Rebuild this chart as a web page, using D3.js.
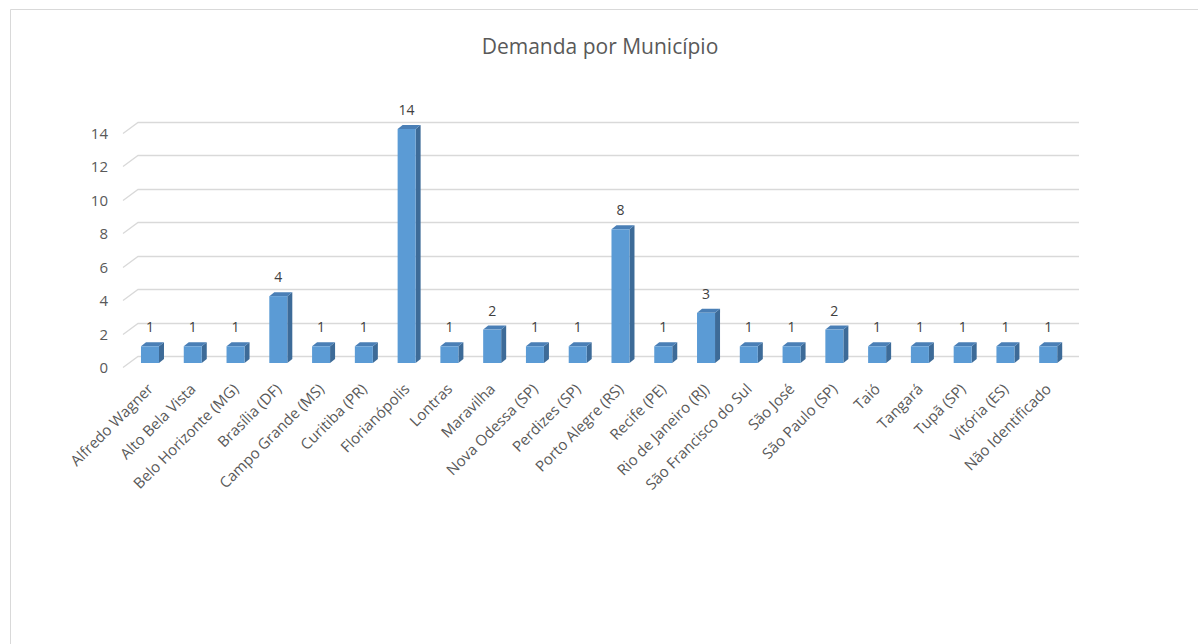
<!DOCTYPE html>
<html>
<head>
<meta charset="utf-8">
<script src="https://cdn.jsdelivr.net/npm/d3@7"></script>
<style>
  body { margin: 0; background: #fff; }
  text { font-family: "Open Sans", sans-serif; fill: #595959; }
</style>
</head>
<body>
<div class="svg-container"></div>
<script>
// data
const categories = [
  "Alfredo Wagner", "Alto Bela Vista", "Belo Horizonte (MG)", "Brasília (DF)",
  "Campo Grande (MS)", "Curitiba (PR)", "Florianópolis", "Lontras", "Maravilha",
  "Nova Odessa (SP)", "Perdizes (SP)", "Porto Alegre (RS)", "Recife (PE)",
  "Rio de Janeiro (RJ)", "São Francisco do Sul", "São José", "São Paulo (SP)",
  "Taió", "Tangará", "Tupã (SP)", "Vitória (ES)", "Não Identificado"
];
const values = [1, 1, 1, 4, 1, 1, 14, 1, 2, 1, 1, 8, 1, 3, 1, 1, 2, 1, 1, 1, 1, 1];
const yTicks = [0, 2, 4, 6, 8, 10, 12, 14];
const title = "Demanda por Município";

const width = 1198, height = 644;
// back wall of the 3d plot
const wall = {left: 138, right: 1079, top: 122, bottom: 356};
const depth = {dx: -15, dy: 11};      // front edge relative to back wall
const barOff = {dx: -9.4, dy: 7};     // bar front face relative to back wall
const barDepth = {dx: 5, dy: -4};
const barW = 18;

const svg = d3.select(".svg-container").append("svg")
  .attr("width", width)
  .attr("height", height);

// chart frame (only top/left edges visible in the crop)
svg.append("path")
  .attr("d", `M10.5,${height} L10.5,9.5 L${width},9.5`)
  .style("fill", "none")
  .style("stroke", "#d9d9d9")
  .style("stroke-width", 1);

svg.append("text")
  .attr("x", 600)
  .attr("y", 54)
  .style("text-anchor", "middle")
  .style("font-size", "21px")
  .text(title);

const x = d3.scaleBand().domain(categories).range([wall.left, wall.right]);
const y = d3.scaleLinear().domain([0, 14]).range([wall.bottom, wall.top]);

// gridlines: back wall + slanted side
const grid = svg.append("g");
yTicks.forEach(t => {
  const yy = Math.round(y(t)) + 0.5;
  grid.append("path")
    .attr("d", `M${wall.right},${yy} L${wall.left},${yy} L${wall.left + depth.dx},${yy + depth.dy}`)
    .style("fill", "none")
    .style("stroke", "#d9d9d9")
    .style("stroke-width", 1.3);
  grid.append("text")
    .attr("x", wall.left + depth.dx - 15)
    .attr("y", yy + depth.dy)
    .attr("dy", "0.35em")
    .style("text-anchor", "end")
    .style("font-size", "15px")
    .text(t);
});

const bars = svg.append("g");
categories.forEach((c, i) => {
  const v = values[i];
  const cx = x(c) + x.bandwidth() / 2 + barOff.dx;
  const l = cx - barW / 2, r = cx + barW / 2;
  const yt = y(v) + barOff.dy, yb = y(0) + barOff.dy;
  const dx = barDepth.dx, dy = barDepth.dy;

  bars.append("polygon")
    .attr("points", [[r, yt], [r + dx, yt + dy], [r + dx, yb + dy], [r, yb]].join(" "))
    .style("fill", "#3d6b98");
  bars.append("polygon")
    .attr("points", [[l, yt], [l + dx, yt + dy], [r + dx, yt + dy], [r, yt]].join(" "))
    .style("fill", "#4a7fb6");
  bars.append("rect")
    .attr("x", l)
    .attr("y", yt)
    .attr("width", barW)
    .attr("height", yb - yt)
    .style("fill", "#5b9bd5");

  // data label
  bars.append("text")
    .attr("x", cx)
    .attr("y", yt - 14)
    .style("text-anchor", "middle")
    .style("font-size", "14px")
    .style("fill", "#404040")
    .text(v);

  // category label, rotated -45
  const lx = cx + 4, ly = 390;
  svg.append("text")
    .attr("transform", `translate(${lx},${ly}) rotate(-45)`)
    .style("text-anchor", "end")
    .style("font-size", "15px")
    .text(c);
});
</script>
</body>
</html>
